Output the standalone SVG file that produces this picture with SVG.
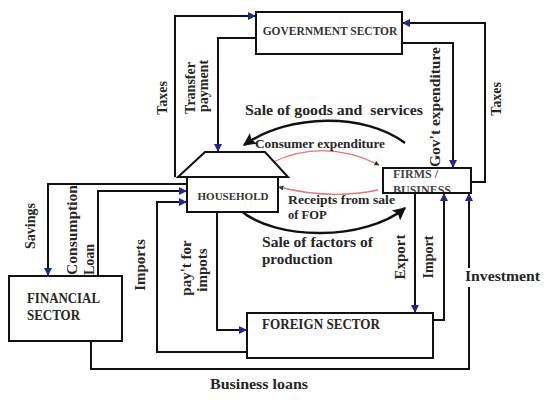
<svg xmlns="http://www.w3.org/2000/svg" width="557" height="408" viewBox="0 0 557 408">
<style>
.box{fill:#fff;stroke:#111;stroke-width:2}
.ln{fill:none;stroke:#111;stroke-width:2}
.big{fill:none;stroke:#111;stroke-width:2.4}
.red{fill:none;stroke:#e57373;stroke-width:1.3}
text{font-family:"Liberation Serif","Times New Roman",serif;font-weight:bold;fill:#262626}
.lg{font-size:15px}
.md{font-size:14px}
.sm{font-size:12.5px}
.cap{font-size:11.5px;fill:#333}
</style>
<defs>
<marker id="blue" viewBox="0 0 10 10" refX="10" refY="5" markerWidth="8" markerHeight="8" orient="auto" markerUnits="userSpaceOnUse"><path d="M0,0 L10,5 L0,10 z" fill="#1c2a8c"/></marker>
<marker id="bigh" viewBox="0 0 10 10" refX="9" refY="5" markerWidth="18" markerHeight="13" orient="auto" markerUnits="userSpaceOnUse"><path d="M0,0 L10,5 L0,10 L2,5 z" fill="#111"/></marker>
<marker id="tiny" viewBox="0 0 10 10" refX="9" refY="5" markerWidth="5" markerHeight="5" orient="auto" markerUnits="userSpaceOnUse"><path d="M0,0 L10,5 L0,10 z" fill="#333"/></marker>
</defs>

<g id="connectors">
<path class="ln" d="M175,177 V16 H256" marker-end="url(#blue)"/>
<path class="ln" d="M256,38 H218 V152" marker-end="url(#blue)"/>
<path class="ln" d="M471,182 H485 V23 H402" marker-end="url(#blue)"/>
<path class="ln" d="M402,43 H453 V168" marker-end="url(#blue)"/>
<path class="ln" d="M187,184 H48 V276" marker-end="url(#blue)"/>
<path class="ln" d="M98,276 V191 H187" marker-end="url(#blue)"/>
<path class="ln" d="M247,352 H157 V202 H187" marker-end="url(#blue)"/>
<path class="ln" d="M217,212 V330 H247" marker-end="url(#blue)"/>
<path class="ln" d="M415,193 V313" marker-end="url(#blue)"/>
<path class="ln" d="M433,320 H444 V193" marker-end="url(#blue)"/>
<path class="ln" d="M91,341 V369 H469 V287"/>
<path class="ln" d="M469,268 V193" marker-end="url(#blue)"/>
<path class="big" d="M405,143 C365,113 290,113 244,145" marker-end="url(#bigh)"/>
<path class="big" d="M240,210 C275,241 365,241 405,208" marker-end="url(#bigh)"/>
<path class="red" d="M273,162 Q325,138 379,165" marker-end="url(#tiny)"/>
<path class="red" d="M378,190 Q330,200 279,187" marker-end="url(#tiny)"/>
</g>

<g id="government">
<rect class="box" x="256" y="12" width="146" height="42"/>
<text class="cap" x="330" y="35" text-anchor="middle">GOVERNMENT SECTOR</text>
</g>

<g id="household">
<polygon class="box" points="178,177 205,152 265,152 288,177"/>
<rect class="box" x="187" y="177" width="91" height="35"/>
<text class="cap" x="233" y="200" text-anchor="middle" style="font-size:11px">HOUSEHOLD</text>
</g>

<g id="firms">
<text class="cap" x="393" y="178" style="font-size:12px;fill:#444">FIRMS /</text>
<text class="cap" x="393" y="194" style="font-size:12px;fill:#444">BUSINESS</text>
<rect x="383" y="168" width="88" height="25" fill="none" stroke="#111" stroke-width="2"/>
</g>

<g id="foreign">
<rect class="box" x="247" y="313" width="186" height="45"/>
<text class="md" x="262" y="329" textLength="118" lengthAdjust="spacingAndGlyphs">FOREIGN SECTOR</text>
</g>

<g id="financial">
<rect class="box" x="9" y="276" width="113" height="65"/>
<text class="md" x="27" y="303" textLength="73" lengthAdjust="spacingAndGlyphs">FINANCIAL</text>
<text class="md" x="27" y="320" textLength="53" lengthAdjust="spacingAndGlyphs">SECTOR</text>
</g>

<g id="labels">
<text class="lg" x="245" y="115" textLength="178" lengthAdjust="spacingAndGlyphs" style="white-space:pre">Sale of goods and  services</text>
<text class="sm" x="255" y="148" textLength="130" lengthAdjust="spacingAndGlyphs">Consumer expenditure</text>
<text class="sm" x="288" y="204" textLength="107" lengthAdjust="spacingAndGlyphs">Receipts from sale</text>
<text class="sm" x="288" y="219">of FOP</text>
<text class="lg" x="262" y="247" textLength="111" lengthAdjust="spacingAndGlyphs">Sale of factors of</text>
<text class="lg" x="262" y="264">production</text>
<text class="md" x="465" y="281" textLength="75" lengthAdjust="spacingAndGlyphs">Investment</text>
<text class="md" x="210" y="389" textLength="98" lengthAdjust="spacingAndGlyphs">Business loans</text>
<text class="md" transform="translate(167,98) rotate(-90)" text-anchor="middle">Taxes</text>
<text class="md" transform="translate(195,88) rotate(-90)" text-anchor="middle">Transfer</text>
<text class="md" transform="translate(208,86) rotate(-90)" text-anchor="middle">payment</text>
<text class="md" transform="translate(440,167) rotate(-90)" textLength="120" lengthAdjust="spacingAndGlyphs">Gov't expenditure</text>
<text class="md" transform="translate(501,99) rotate(-90)" text-anchor="middle">Taxes</text>
<text class="md" transform="translate(35,226) rotate(-90)" text-anchor="middle">Savings</text>
<text class="md" transform="translate(77,275) rotate(-90)" textLength="90" lengthAdjust="spacingAndGlyphs">Consumption</text>
<text class="md" transform="translate(94,275) rotate(-90)">Loan</text>
<text class="md" transform="translate(145,265) rotate(-90)" text-anchor="middle" style="font-size:15px">Imports</text>
<text class="md" transform="translate(191,268) rotate(-90)" text-anchor="middle" style="font-size:15px">pay't for</text>
<text class="md" transform="translate(207,270) rotate(-90)" text-anchor="middle" style="font-size:15px">impots</text>
<text class="md" transform="translate(405,257) rotate(-90)" text-anchor="middle" style="font-size:15px">Export</text>
<text class="md" transform="translate(433,257) rotate(-90)" text-anchor="middle">Import</text>
</g>
</svg>
